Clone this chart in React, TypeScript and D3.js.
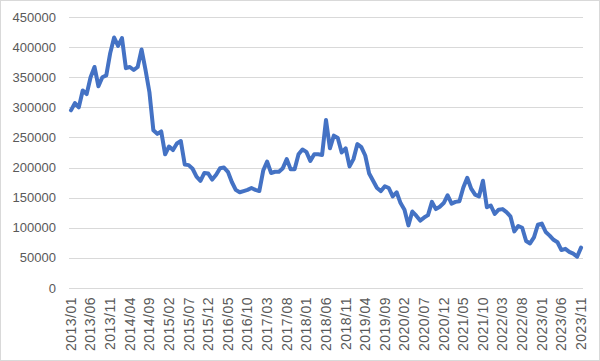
import * as d3 from "d3";
import { useEffect, useRef } from "react";

// monthly values, 2013/01 .. 2023/11
const values = [
  295000, 307000, 300000, 328000, 322000, 350000, 367000, 335000, 350000, 353000,
  390000, 416000, 402000, 415000, 365000, 367000, 362000, 367000, 396000, 362000,
  325000, 262000, 256000, 260000, 222000, 235000, 229000, 240000, 244000, 205000,
  204000, 198000, 185000, 178000, 191000, 190000, 180000, 188000, 199000, 200000,
  193000, 176000, 163000, 159000, 161000, 163000, 166000, 163000, 161000, 195000,
  210000, 191000, 193000, 193000, 199000, 214000, 197000, 197000, 222000, 230000,
  226000, 211000, 222000, 222000, 221000, 279000, 232000, 253000, 249000, 225000,
  232000, 202000, 214000, 239000, 234000, 220000, 190000, 178000, 166000, 161000,
  169000, 166000, 152000, 159000, 141000, 130000, 104000, 127000, 120000, 112000,
  117000, 121000, 143000, 131000, 135000, 141000, 154000, 140000, 143000, 144000,
  167000, 183000, 165000, 155000, 152000, 178000, 134000, 137000, 123000, 130000,
  131000, 126000, 119000, 94000, 103000, 100000, 78000, 74000, 84000, 105000,
  107000, 93000, 87000, 80000, 76000, 63000, 65000, 60000, 57000, 52000,
  67000,
];

const startYear = 2013;
const months = values.map((_, i) => {
  const y = startYear + Math.floor(i / 12);
  const m = (i % 12) + 1;
  return `${y}/${String(m).padStart(2, "0")}`;
});

const yTicks = [0, 50000, 100000, 150000, 200000, 250000, 300000, 350000, 400000, 450000];

const App = () => {
  const chartRef = useRef(null);

  useEffect(() => {
    const svg = d3.select(chartRef.current);
    svg.selectAll("*").remove();

    const width = 600;
    const height = 361;
    const left = 69;
    const right = 583;
    const top = 17;
    const bottom = 288;
    const font = "'Liberation Sans', Arial, sans-serif";

    // рамка
    svg.append("rect")
      .attr("x", 0.5)
      .attr("y", 0.5)
      .attr("width", width - 1)
      .attr("height", height - 1)
      .attr("fill", "#fff")
      .attr("stroke", "#d9d9d9");

    const xScale = d3.scaleBand()
      .domain(months)
      .range([left, right]);

    const yScale = d3.scaleLinear()
      .domain([0, 450000])
      .range([bottom, top]);

    // сетка
    svg.selectAll(".grid")
      .data(yTicks)
      .enter()
      .append("line")
      .attr("x1", left)
      .attr("x2", right)
      .attr("y1", d => Math.round(yScale(d)) + 0.5)
      .attr("y2", d => Math.round(yScale(d)) + 0.5)
      .attr("stroke", "#d9d9d9")
      .attr("stroke-width", 1);

    // подписи оси Y
    svg.selectAll(".ylab")
      .data(yTicks)
      .enter()
      .append("text")
      .attr("x", 56)
      .attr("y", d => yScale(d))
      .attr("dy", "0.35em")
      .attr("text-anchor", "end")
      .attr("font-family", font)
      .attr("font-size", 13)
      .attr("fill", "#595959")
      .text(d => String(d));

    // подписи оси X, каждые 5 месяцев
    const xLabels = months.filter((_, i) => i % 5 === 0);
    svg.selectAll(".xlab")
      .data(xLabels)
      .enter()
      .append("text")
      .attr("transform", d => `translate(${xScale(d) + xScale.bandwidth() / 2},297) rotate(-90)`)
      .attr("dy", "0.35em")
      .attr("text-anchor", "end")
      .attr("font-family", font)
      .attr("font-size", 14)
      .attr("letter-spacing", 0.5)
      .attr("fill", "#595959")
      .text(d => d);

    // линия
    const line = d3.line()
      .x((d, i) => xScale(months[i]) + xScale.bandwidth() / 2)
      .y(d => yScale(d));

    svg.append("path")
      .datum(values)
      .attr("d", line)
      .attr("fill", "none")
      .attr("stroke", "#4472c4")
      .attr("stroke-width", 4)
      .attr("stroke-linejoin", "round")
      .attr("stroke-linecap", "round");
  }, []);

  return (
    <svg
      ref={chartRef}
      width="600"
      height="361"
      style={{ position: "absolute", left: 0, top: 0 }}
    ></svg>
  );
};

export default App;
